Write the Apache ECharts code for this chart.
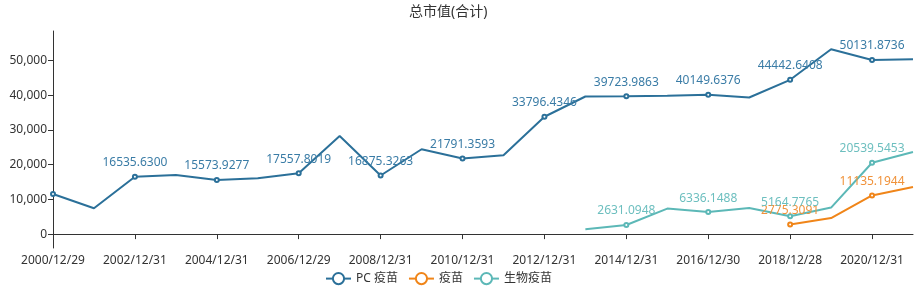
<!DOCTYPE html>
<html>
<head>
<meta charset="utf-8">
<script src="https://cdn.jsdelivr.net/npm/echarts@6/dist/echarts.min.js"></script>
<style>html,body{margin:0;padding:0;background:#fff}#c{width:923px;height:288px}</style>
</head>
<body>
<div id="c"></div>
<script>
const categories = ['2000/12/29','2001/12/31','2002/12/31','2003/12/31','2004/12/31','2005/12/30','2006/12/29','2007/12/28','2008/12/31','2009/12/31','2010/12/31','2011/12/30','2012/12/31','2013/12/31','2014/12/31','2015/12/31','2016/12/30','2017/12/29','2018/12/28','2019/12/31','2020/12/31','2021/12/31'];
const pcVaccine = [11560, 7440, 16535.6300, 17030, 15573.9277, 16080, 17557.8019, 28270, 16875.3263, 24440, 21791.3593, 22700, 33796.4346, 39630, 39723.9863, 39850, 40149.6376, 39340, 44442.6408, 53260, 50131.8736, 50380];
const vaccine = [null, null, null, null, null, null, null, null, null, null, null, null, null, null, null, null, null, null, 2775.3091, 4640, 11135.1944, 13570];
const bioVaccine = [null, null, null, null, null, null, null, null, null, null, null, null, null, 1380, 2631.0948, 7350, 6336.1488, 7520, 5164.7765, 7640, 20539.5453, 23660];
const seriesNames = ['PC 疫苗', '疫苗', '生物疫苗'];
const titleText = '总市值(合计)';

const FONT = "'Noto Sans', 'Noto Sans CJK SC', sans-serif";

function build(values, hideFirst) {
  return values.map((v, i) => {
    if (v === null) return '-';
    const even = i % 2 === 0;
    return {
      value: v,
      symbol: even ? 'emptyCircle' : 'none',
      label: { show: even && !(hideFirst && i === 0) }
    };
  });
}

function mkSeries(name, values, lineColor, labelColor, hideFirst) {
  return {
    name: name,
    type: 'line',
    data: build(values, hideFirst),
    showAllSymbol: true,
    symbolSize: 4,
    itemStyle: { color: lineColor, borderWidth: 1 },
    lineStyle: { color: lineColor, width: 2 },
    label: {
      show: true, position: 'top', distance: 5,
      color: labelColor, fontSize: 12, fontFamily: FONT,
      formatter: p => Number(p.value).toFixed(4)
    },
    emphasis: { disabled: true },
    animation: false
  };
}

const chart = echarts.init(document.getElementById('c'), null, { renderer: 'canvas' });
chart.setOption({
  animation: false,
  title: {
    text: titleText, left: 404, top: 0,
    textStyle: { fontSize: 14, fontWeight: 'normal', color: '#333', fontFamily: FONT }
  },
  legend: {
    data: seriesNames, left: 320, top: 267,
    itemWidth: 25, itemHeight: 14, itemGap: 10,
    textStyle: { fontSize: 12, color: '#333', fontFamily: FONT }
  },
  grid: { left: 53, right: 10, top: 31, bottom: 40, containLabel: false, outerBoundsMode: 'none' },
  xAxis: {
    type: 'category', data: categories, boundaryGap: false,
    axisLine: { onZero: true, lineStyle: { color: '#333' } },
    axisTick: { interval: 1, length: 5, lineStyle: { color: '#333' } },
    axisLabel: { interval: 1, margin: 7, fontSize: 12, color: '#333', fontFamily: FONT }
  },
  yAxis: {
    type: 'value', min: -4000, max: 58500, splitNumber: 6,
    axisLine: { show: true, lineStyle: { color: '#333' } },
    axisTick: { show: true, length: 5, lineStyle: { color: '#333' } },
    splitLine: { show: false },
    axisLabel: {
      showMinLabel: false, showMaxLabel: false, margin: 6,
      fontSize: 12, color: '#333', fontFamily: FONT,
      formatter: v => v.toLocaleString('en-US')
    }
  },
  series: [
    mkSeries(seriesNames[0], pcVaccine, '#2b7099', '#3a7ca6', true),
    mkSeries(seriesNames[1], vaccine, '#f08519', '#f0923a', false),
    mkSeries(seriesNames[2], bioVaccine, '#5cb8b7', '#6dbfbf', false)
  ]
});
</script>
</body>
</html>
